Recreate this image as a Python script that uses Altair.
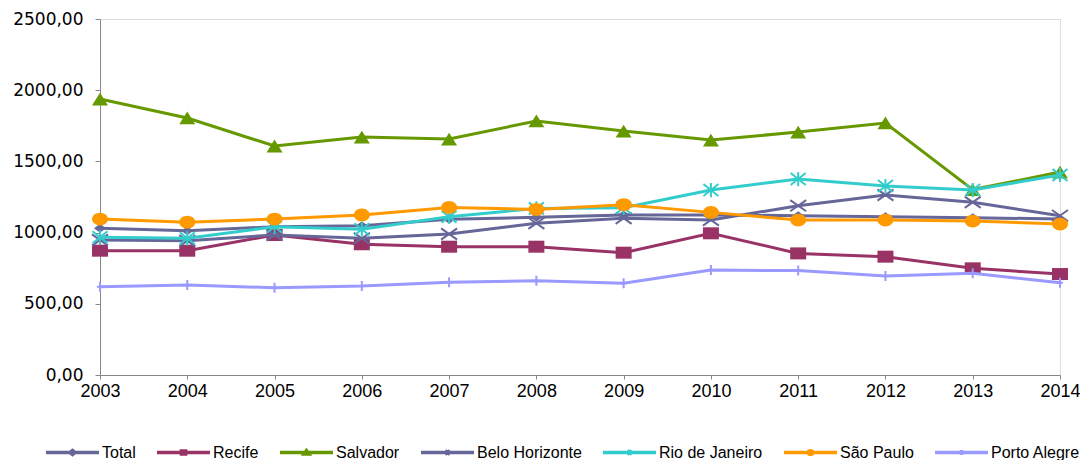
import altair as alt
import pandas as pd

years = list(range(2003, 2015))
names = ["Total", "Recife", "Salvador", "Belo Horizonte", "Rio de Janeiro", "São Paulo", "Porto Alegre"]

total = [1030, 1013, 1041, 1048, 1093, 1107, 1124, 1124, 1119, 1112, 1105, 1095]
recife = [873, 873, 983, 918, 901, 901, 859, 995, 854, 831, 749, 709]
salvador = [1938, 1805, 1608, 1671, 1657, 1784, 1713, 1650, 1706, 1770, 1302, 1425]
belo_horizonte = [948, 943, 983, 960, 990, 1065, 1101, 1088, 1189, 1264, 1213, 1119]
rio_de_janeiro = [967, 960, 1041, 1023, 1112, 1170, 1175, 1299, 1376, 1327, 1299, 1405]
sao_paulo = [1095, 1073, 1095, 1124, 1177, 1163, 1196, 1142, 1088, 1088, 1081, 1060]
porto_alegre = [620, 632, 613, 625, 651, 662, 644, 737, 733, 695, 714, 648]

values = [total, recife, salvador, belo_horizonte, rio_de_janeiro, sao_paulo, porto_alegre]
colors = ["#666699", "#993366", "#669900", "#666699", "#33CCCC", "#FF9900", "#9999FF"]

y_ticks = [0, 500, 1000, 1500, 2000, 2500]

rows = []
for n, vals in zip(names, values):
    for yr, v in zip(years, vals):
        rows.append({"series": n, "year": yr, "value": v})
df = pd.DataFrame(rows)

# marker styles (shape path, size, filled, strokeWidth)
markers = {
    "Total": ("M-1,0L0,-0.75L1,0L0,0.75Z", 144, True, 0),
    "Recife": ("M-1,-0.75H1V0.75H-1Z", 256, True, 0),
    "Salvador": ("M0,-0.8L1,0.8L-1,0.8Z", 256, True, 0),
    "Belo Horizonte": ("M-1,-0.7L1,0.7M-1,0.7L1,-0.7", 256, False, 2),
    "Rio de Janeiro": ("M-1,-0.8L1,0.8M-1,0.8L1,-0.8M0,-0.95L0,0.95", 225, False, 2),
    "São Paulo": ("M-1,0A1,0.8 0 1,1 1,0A1,0.8 0 1,1 -1,0Z", 256, True, 0),
    "Porto Alegre": ("M0,-1L0,1M-0.6,0L0.6,0", 100, False, 2),
}

# legend symbols: line plus small marker, stroked
legend_paths = [
    "M-1,0H1M-0.1,0L0,-0.08L0.1,0L0,0.08Z",
    "M-1,0H1M-0.08,-0.06H0.08V0.06H-0.08Z",
    "M-1,0H1M0,-0.07L0.09,0.06L-0.09,0.06Z",
    "M-1,0H1M-0.09,-0.07L0.09,0.07M-0.09,0.07L0.09,-0.07",
    "M-1,0H1M-0.09,-0.07L0.09,0.07M-0.09,0.07L0.09,-0.07M0,-0.09L0,0.09",
    "M-1,0H1M-0.09,0A0.09,0.07 0 1,1 0.09,0A0.09,0.07 0 1,1 -0.09,0Z",
    "M-1,0H1M0,-0.09L0,0.09",
]

x_enc = alt.X("year:Q", scale=alt.Scale(domain=[2003, 2014], nice=False, zero=False),
              axis=alt.Axis(values=years, format="d", title=None, grid=False,
                            labelFont="Liberation Sans", labelFontSize=18, labelColor="#000000",
                            labelPadding=3, tickSize=4, tickColor="#888888",
                            domainColor="#888888", labelFlush=False))
y_enc = alt.Y("value:Q", scale=alt.Scale(domain=[0, 2500], nice=False),
              axis=alt.Axis(values=y_ticks, title=None, grid=False,
                            labelExpr="replace(format(datum.value, '.2f'), '.', ',')",
                            labelFont="DejaVu Sans", labelFontSize=17, labelColor="#000000",
                            labelPadding=12, tickSize=5, tickColor="#888888",
                            domainColor="#888888"))

layers = []
for n, c in zip(names, colors):
    base = alt.Chart(df).transform_filter(alt.datum.series == n)
    layers.append(base.mark_line(strokeWidth=3, color=c).encode(x=x_enc, y=y_enc))
    path, size, filled, sw = markers[n]
    if filled:
        pm = base.mark_point(shape=path, size=size, filled=True, color=c, opacity=1, strokeWidth=0)
    else:
        pm = base.mark_point(shape=path, size=size, filled=False, color=c, opacity=1, strokeWidth=sw)
    layers.append(pm.encode(x=x_enc, y=y_enc))

leg = alt.Legend(orient="none", legendX=-56, legendY=405, direction="horizontal", title=None,
                 labelFont="Liberation Sans", labelFontSize=16, labelColor="#000000",
                 symbolSize=2809, symbolStrokeWidth=3.5, labelOffset=1, columnPadding=14,
                 gridAlign="none", padding=0)

legend_layer = alt.Chart(df).transform_filter("false").mark_point(
    filled=False, strokeWidth=3.5, opacity=1
).encode(
    color=alt.Color("series:N", scale=alt.Scale(domain=names, range=colors), legend=leg),
    shape=alt.Shape("series:N", scale=alt.Scale(domain=names, range=legend_paths), legend=leg),
)
layers.append(legend_layer)

chart = alt.layer(*layers).properties(
    width=960, height=356,
    autosize=alt.AutoSizeParams(type="none"),
    padding={"left": 92, "top": 11, "right": 20, "bottom": 85},
).configure_view(stroke=None).configure(background="#ffffff")

chart.save("out.html", embed_options={"renderer": "svg", "actions": False})
